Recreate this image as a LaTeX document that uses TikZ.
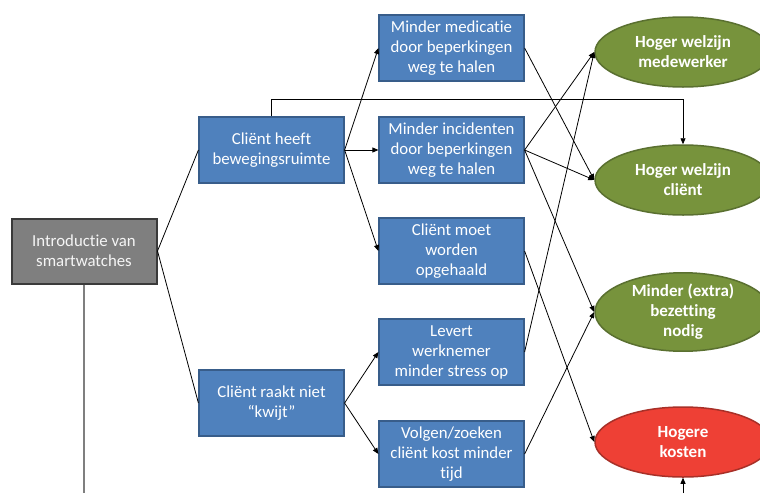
\documentclass[tikz,border=0pt]{standalone}
\usepackage{fontspec}
\setmainfont[Ligatures=NoCommon]{Carlito}
\usetikzlibrary{shapes.geometric,arrows.meta}
\definecolor{boxblue}{HTML}{4F81BD}
\definecolor{boxblueline}{HTML}{385D8A}
\definecolor{boxgray}{HTML}{7F7F7F}
\definecolor{boxgrayline}{HTML}{3A3A3A}
\definecolor{ellgreen}{HTML}{77933C}
\definecolor{ellgreenline}{HTML}{5A7030}
\definecolor{ellred}{HTML}{EE4035}
\definecolor{ellredline}{HTML}{A83028}
\tikzset{
  x=1pt, y=-1pt,
  bluebox/.style={draw=boxblueline, line width=1.2pt, fill=boxblue, text=white,
    minimum width=145pt, minimum height=66pt, inner sep=2pt, align=center,
    font=\fontsize{16.8}{20}\selectfont},
  graybox/.style={draw=boxgrayline, line width=2pt, fill=boxgray, text=white!92!gray,
    minimum width=145pt, minimum height=65pt, inner sep=2pt, align=center,
    font=\fontsize{16.8}{20}\selectfont},
  outcome/.style={ellipse, line width=1.5pt, text=white, minimum width=176pt,
    minimum height=70pt, inner sep=0pt, align=center,
    font=\bfseries\fontsize{17}{20}\selectfont},
  greenell/.style={outcome, draw=ellgreenline, fill=ellgreen},
  redell/.style={outcome, draw=ellredline, fill=ellred},
  conn/.style={draw=black, line width=0.8pt},
  arr/.style={conn, -{Triangle[length=6pt,width=5pt]}},
}
\begin{document}
\begin{tikzpicture}
\useasboundingbox (0,0) rectangle (760,493);
\clip (0,0) rectangle (760,493);
\fill[white] (0,0) rectangle (760,493);

\node[graybox] (intro) at (84,251) {Introductie van\\smartwatches};
\node[bluebox] (heeft) at (271.5,150) {Cliënt heeft\\bewegingsruimte};
\node[bluebox] (raakt) at (271.5,403) {Cliënt raakt niet\\“kwijt”};
\node[bluebox] (med) at (451.5,48) {Minder medicatie\\door beperkingen\\weg te halen};
\node[bluebox] (inc) at (451.5,150) {Minder incidenten\\door beperkingen\\weg te halen};
\node[bluebox] (opg) at (451.5,251) {Cliënt moet\\worden\\opgehaald};
\node[bluebox] (stress) at (451.5,352) {Levert\\werknemer\\minder stress op};
\node[bluebox] (zoek) at (451.5,454) {Volgen/zoeken\\cliënt kost minder\\tijd};

\node[greenell] (wmed) at (683,52) {Hoger welzijn\\medewerker};
\node[greenell] (wcl) at (683,180) {Hoger welzijn\\cliënt};
\node[greenell] (bez) at (683,312) {Minder (extra)\\bezetting\\nodig};
\node[redell] (kost) at (683,442) {Hogere\\kosten};

\coordinate (introdown) at (84,493);
\coordinate (kostup) at (683,493);

\draw[draw=boxgray, line width=1.2pt] (intro.south) -- (introdown);
\draw[arr] (kostup) -- (kost.south);

\draw[conn] (intro.east) -- (heeft.west);
\draw[conn] (intro.east) -- (raakt.west);

\draw[arr] (heeft.east) -- (med.west);
\draw[arr] (heeft.east) -- (inc.west);
\draw[arr] (heeft.east) -- (opg.west);
\draw[arr] (heeft.north) -- ++(0,-17) -| (wcl.north);

\draw[arr] (raakt.east) -- (stress.west);
\draw[arr] (raakt.east) -- (zoek.west);

\draw[arr] (med.east) -- (wcl.west);
\draw[arr] (inc.east) -- (wmed.west);
\draw[arr] (inc.east) -- (wcl.west);
\draw[arr] (inc.east) -- (bez.west);
\draw[arr] (opg.east) -- (kost.west);
\draw[arr] (stress.east) -- (wmed.west);
\draw[arr] (zoek.east) -- (bez.west);
\end{tikzpicture}
\end{document}
